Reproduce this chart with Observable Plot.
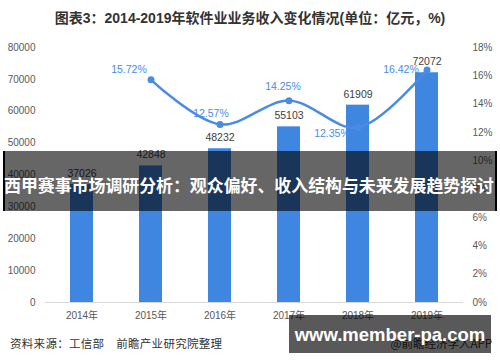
<!DOCTYPE html>
<html><head><meta charset="utf-8">
<script src="https://cdn.jsdelivr.net/npm/d3@7"></script>
<script src="https://cdn.jsdelivr.net/npm/@observablehq/plot@0.6"></script>
<style>
body{margin:0;background:#fff;font-family:"Liberation Sans","Noto Sans CJK SC",sans-serif;}
#wrap{position:relative;width:500px;height:362px;overflow:hidden;background:#fff;}
#title{height:34px;line-height:37px;text-align:center;font-weight:bold;font-size:14px;color:#333;font-family:"Liberation Sans","Noto Sans CJK SC",sans-serif;}
#chart svg{display:block;}
#foot{position:relative;height:32px;font-size:11.5px;color:#333;font-family:"Noto Sans CJK SC",sans-serif;}
#src{position:absolute;left:10px;top:4px;line-height:18px;letter-spacing:0.3px;}
#app{position:absolute;right:8px;top:4px;line-height:18px;}
#banner{position:absolute;left:3px;top:151px;width:494px;height:60px;background:rgba(0,0,0,0.6);border-left:2px solid #000;border-right:2px solid #000;box-sizing:border-box;}
#banner span{position:absolute;left:-1px;top:0;color:#fff;font-weight:bold;font-size:17.5px;line-height:68px;white-space:nowrap;font-family:"Noto Sans CJK SC",sans-serif;transform-origin:0 50%;}
#site{position:absolute;left:289px;top:315px;width:202px;height:38px;background:rgba(0,0,0,0.65);color:#fff;font-weight:bold;font-size:18.5px;line-height:40px;text-align:center;font-family:"Liberation Sans",sans-serif;white-space:nowrap;}
</style></head>
<body>
<div id="wrap">
  <div id="title">图表3：2014-2019年软件业业务收入变化情况(单位：亿元，%)</div>
  <div id="chart"></div>
  <div id="foot"><span id="src">资料来源：工信部　前瞻产业研究院整理</span><span id="app">@前瞻经济学人APP</span></div>
  <div id="banner"><span id="btext">西甲赛事市场调研分析：观众偏好、收入结构与未来发展趋势探讨</span></div>
  <div id="site">www.member-pa.com</div>
</div>
<script>
const years = ["2014年","2015年","2016年","2017年","2018年","2019年"];
const revenue = [37026, 42848, 48232, 55103, 61909, 72072];
const growthYears = ["2015年","2016年","2017年","2018年","2019年"];
const growth = [15.72, 12.57, 14.25, 12.35, 16.42];
const leftTicks = [0,10000,20000,30000,40000,50000,60000,70000,80000];
const rightTicks = [0,2,4,6,8,10,12,14,16,18];

const yMax = 80000, pMax = 18;
const toY = p => p / pMax * yMax;

const bars = years.map((y,i)=>({year:y, value:revenue[i]}));
const line = growthYears.map((y,i)=>({year:y, pct:growth[i]}));

const blue = "#3f86e0";
const lineBlue = "#4a8be3";
const labelBlue = "#4a8be8";

function lab(yr, dx, dy, anchor){
  return Plot.text(line.filter(d=>d.year===yr), {x:"year", y:d=>toY(d.pct), text:d=>d.pct.toFixed(2)+"%", fill:labelBlue, fontSize:10.5, dx, dy, textAnchor:anchor||"middle"});
}

const chart = Plot.plot({
  width:500, height:296,
  marginTop:13, marginBottom:28, marginLeft:45, marginRight:37,
  style:{fontFamily:"Liberation Sans, Noto Sans CJK SC, sans-serif", fontSize:"10px", color:"#595959", background:"#fff"},
  x:{domain:years, paddingInner:0.67, paddingOuter:0.335, label:null},
  y:{domain:[0,yMax], label:null},
  marks:[
    Plot.axisY(leftTicks, {anchor:"left", tickSize:0, tickPadding:10, label:null, tickFormat:d=>String(d), fill:"#595959", fontSize:10}),
    Plot.axisY(rightTicks.map(toY), {anchor:"right", tickSize:0, tickPadding:9, label:null, tickFormat:d=>Math.round(d/yMax*pMax)+"%", fill:"#595959", fontSize:10}),
    Plot.axisX({tickSize:0, tickPadding:9, label:null, fill:"#595959", fontSize:10}),
    Plot.ruleY([0], {stroke:"#d9d9d9", strokeWidth:1}),
    Plot.barY(bars, {x:"year", y:"value", fill:blue}),
    Plot.text(bars, {x:"year", y:"value", text:d=>String(d.value), dy:-11, fill:"#404040", fontSize:10.5}),
    Plot.line(line, {x:"year", y:d=>toY(d.pct), curve:"catmull-rom", stroke:lineBlue, strokeWidth:2.5}),
    Plot.dot(line, {x:"year", y:d=>toY(d.pct), r:3.5, fill:lineBlue}),
    lab("2015年", -22, -10),
    lab("2016年", -9, -11),
    lab("2017年", -6, -14),
    lab("2018年", -26, 6),
    lab("2019年", -26, 0)
  ]
});
document.getElementById("chart").appendChild(chart);

// fit banner text to 490px wide
const bt = document.getElementById("btext");
const w = bt.getBoundingClientRect().width;
if (w > 0) bt.style.transform = `scaleX(${Math.min(1.2, 490 / w)})`;
</script>
</body></html>
